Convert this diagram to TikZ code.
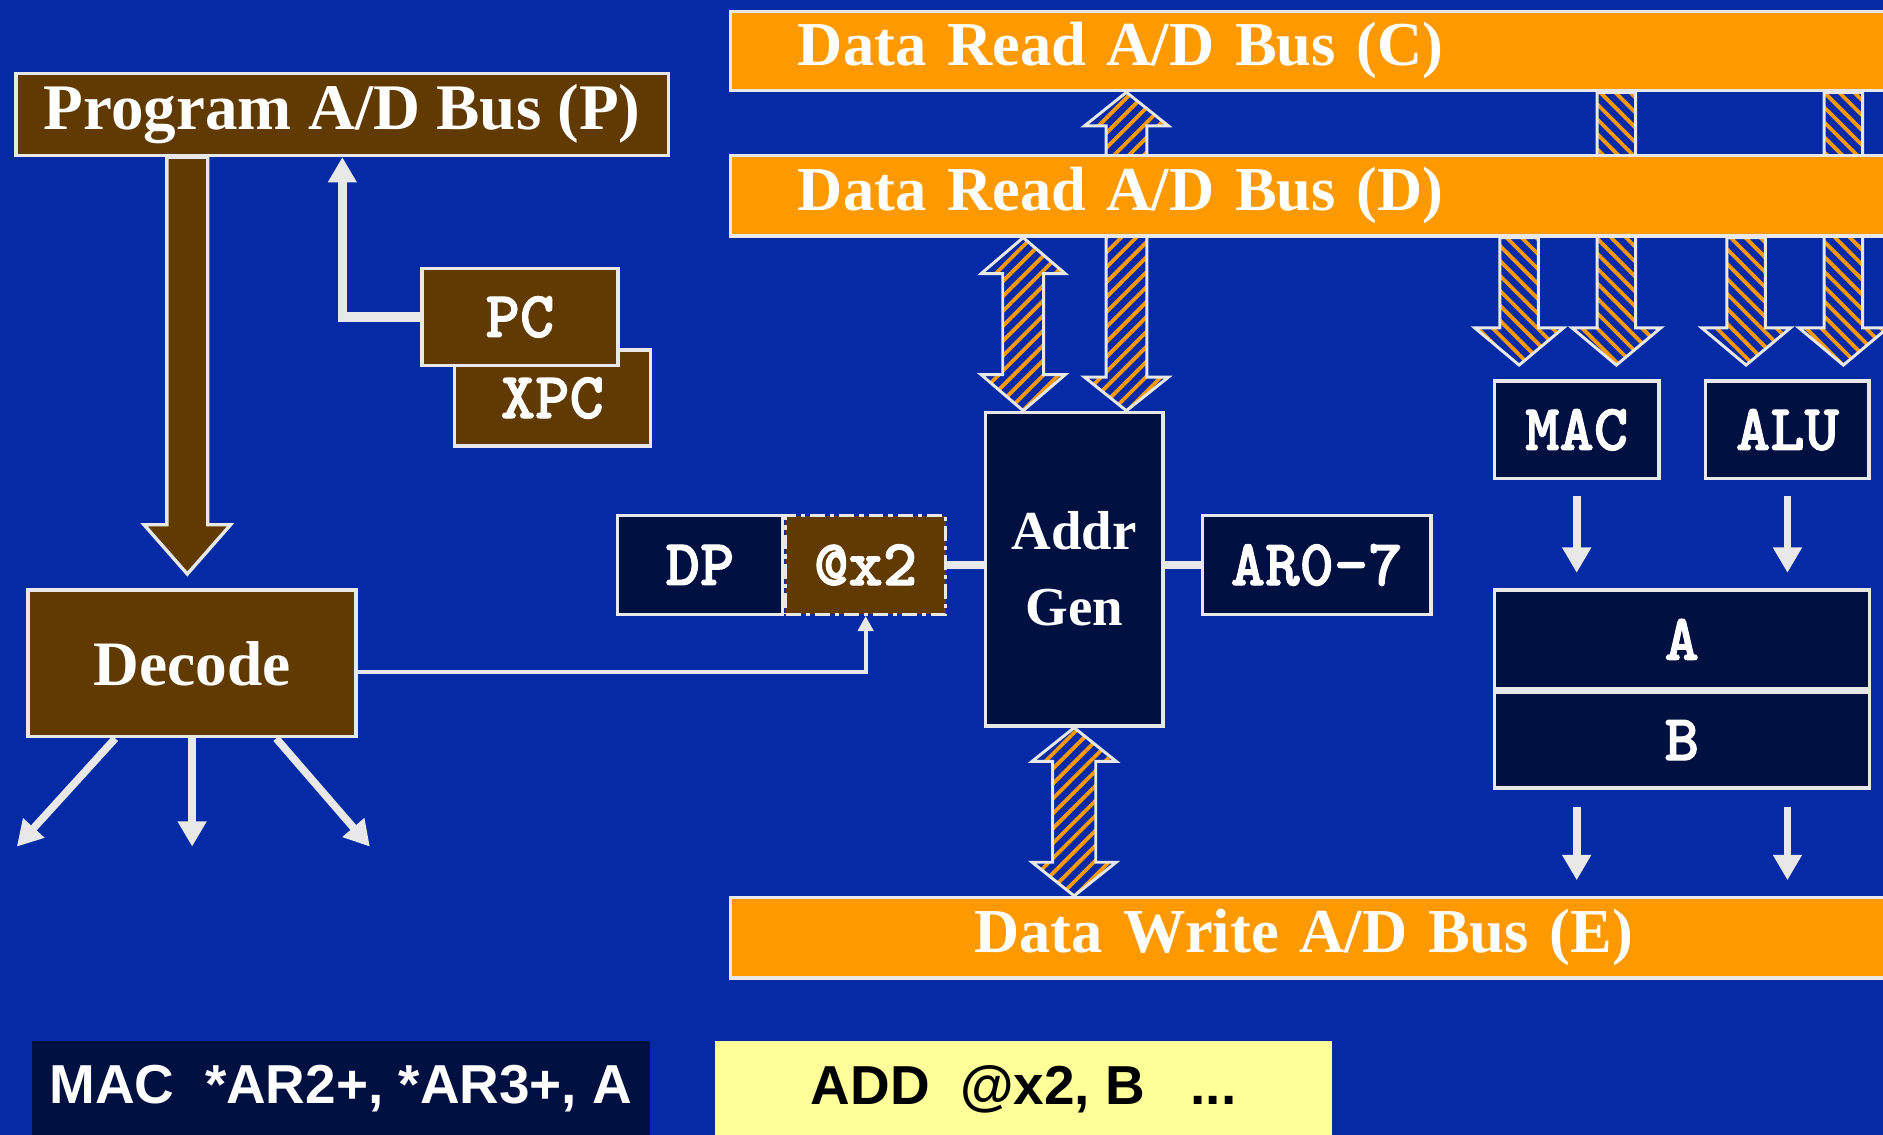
\documentclass[tikz,border=0pt]{standalone}
\usepackage{fontspec}
\setmainfont{Liberation Serif}
\setsansfont{Liberation Sans}
\newfontfamily\regmono{lmmonolt10-bold}[Extension=.otf, FakeBold=1.6]
\usepackage{xcolor}
\usepackage{tikz}
\usetikzlibrary{calc,positioning,arrows.meta,patterns.meta}

\definecolor{bgblue}{RGB}{4,42,166}
\definecolor{busorange}{RGB}{255,153,0}
\definecolor{brownfill}{RGB}{96,58,0}
\definecolor{navyfill}{RGB}{0,16,64}
\definecolor{codeyellow}{RGB}{255,255,153}
\definecolor{edge}{RGB}{232,232,232}

\pgfdeclarelayer{bg}
\pgfdeclarelayer{behind}
\pgfsetlayers{bg,behind,main}

\newcommand\labfont{\fontsize{15}{18}\selectfont\bfseries}
\newcommand\progfont{\fontsize{15.4}{18}\selectfont\bfseries}
\newcommand\busfont{\fontsize{14.8}{18}\selectfont\bfseries}
\newcommand\genfont{\fontsize{13}{18}\selectfont\bfseries}
\newcommand\regfont{\fontsize{15.5}{18}\selectfont\regmono}
\newcommand\codefont{\fontsize{13}{16}\selectfont\sffamily\bfseries}

% block arrows: style, tail, tip, shaft half width, head half width, head length
\newcommand\downblk[6]{%
  \draw[#1] ($(#2)+(-#4,0)$) -- ($(#3)+(-#4,-#6)$) -- ($(#3)+(-#5,-#6)$) -- (#3)
    -- ($(#3)+(#5,-#6)$) -- ($(#3)+(#4,-#6)$) -- ($(#2)+(#4,0)$) -- cycle;}
\newcommand\dblblk[6]{%
  \draw[#1] (#2) -- ($(#2)+(#5,#6)$) -- ($(#2)+(#4,#6)$) -- ($(#3)+(#4,-#6)$)
    -- ($(#3)+(#5,-#6)$) -- (#3) -- ($(#3)+(-#5,-#6)$) -- ($(#3)+(-#4,-#6)$)
    -- ($(#2)+(-#4,#6)$) -- ($(#2)+(-#5,#6)$) -- cycle;}

\begin{document}
\begin{tikzpicture}[x=0.01cm, y=-0.01cm,
    box/.style={draw=edge, line width=0.8pt, inner sep=0pt, anchor=north west, text=white},
    ctl/.style={box, fill=brownfill, font=\labfont},
    reg/.style={box, fill=navyfill, font=\regfont},
    bus/.style={box, fill=busorange, font=\busfont, text width=10cm, align=left, inner xsep=0.56cm},
    code/.style={inner sep=0pt, anchor=north west, font=\codefont, minimum height=0.8cm},
    bigarrow/.style={draw=edge, line width=0.8pt, fill=brownfill},
    hatch/.style={draw=edge, line width=0.7pt, preaction={fill=bgblue}, pattern color=busorange},
    hatchup/.style={hatch, pattern={Lines[angle=45,distance=2.5pt,line width=0.9pt]}},
    hatchdn/.style={hatch, pattern={Lines[angle=-45,distance=2.5pt,line width=0.9pt]}},
    wire/.style={draw=edge, line width=1.8pt},
    warrow/.style={wire, -{Triangle[width=6.5pt,length=6pt]}},
    thinarrow/.style={draw=edge, line width=0.9pt, -{Triangle[width=3.6pt,length=3.6pt]}}
]
    \begin{pgfonlayer}{bg}
        \fill[bgblue] (0,0) rectangle (1568,945);
    \end{pgfonlayer}
    \useasboundingbox (0,0) rectangle (1568,945);
    \clip (0,0) rectangle (1568,945);

    \coordinate (colL) at (852,0);
    \coordinate (colM) at (938,0);
    \coordinate (r1) at (1265,304);
    \coordinate (r2) at (1346,304);
    \coordinate (r3) at (1454,304);
    \coordinate (r4) at (1535,304);

    % program side
    \node[ctl, font=\progfont, minimum width=5.43cm, minimum height=0.68cm] (busp) at (12,60) {Program A/D Bus (P)};
    \node[ctl, font=\regfont, minimum width=1.63cm, minimum height=0.8cm] (xpc) at (377,290) {XPC};
    \node[ctl, font=\regfont, minimum width=1.63cm, minimum height=0.81cm] (pc) at (350,222) {PC};
    \node[ctl, minimum width=2.73cm, minimum height=1.22cm] (decode) at (22,490) {Decode};

    \coordinate (dtip) at ($(decode.north)+(-4,-12)$);
    \coordinate (dtail) at (dtip |- busp.south);
    \downblk{bigarrow}{dtail}{dtip}{17}{36}{41}
    \draw[warrow, line width=2.2pt] (pc.west) -| (busp.south);

    \coordinate (outl) at (14,705);
    \coordinate (outr) at (308,705);
    \draw[warrow] ($(decode.south)+(-64,0)$) -- (outl);
    \draw[warrow] (decode.south) -- (decode.south |- outl);
    \draw[warrow] ($(decode.south)+(70,0)$) -- (outr);

    % address generation
    \node[reg, minimum width=1.37cm, minimum height=0.82cm] (dp) at (513,428) {DP};
    \node[ctl, font=\regfont, right=0pt of dp, minimum width=1.33cm, minimum height=0.82cm,
          dash pattern=on 3.5pt off 1.2pt on 1pt off 1.2pt] (atx) {@x2};
    \node[reg, font=\genfont, align=center, minimum width=1.48cm, minimum height=2.61cm] (addrgen) at (819,342) {Addr\\Gen};
    \node[reg, minimum width=1.9cm, minimum height=0.82cm] (arreg) at (1000,428) {AR0-7};
    \draw[wire] (atx.east) -- (addrgen.west |- atx.east);
    \draw[wire] (addrgen.east |- arreg.west) -- (arreg.west);
    \draw[thinarrow] ($(decode.east)+(0,7)$) -| (atx.south);

    % data buses
    \node[bus, minimum height=0.66cm] (busc) at (607,8) {Data Read A/D Bus (C)};
    \begin{pgfonlayer}{behind}
        \dblblk{hatchup}{colM |- busc.south}{colM |- addrgen.north}{17}{35}{28}
        \downblk{hatchdn}{r2 |- busc.south}{r2}{16}{37}{31}
        \downblk{hatchdn}{r4 |- busc.south}{r4}{16}{37}{31}
    \end{pgfonlayer}
    \node[bus, minimum height=0.67cm] (busd) at (607,128) {Data Read A/D Bus (D)};
    \node[bus, minimum height=0.67cm, inner xsep=2.03cm] (buse) at (607,746) {Data Write A/D Bus (E)};

    \dblblk{hatchup}{colL |- busd.south}{colL |- addrgen.north}{17}{35}{30}
    \dblblk{hatchup}{addrgen.south}{addrgen.south |- buse.north}{18}{35}{28}
    \downblk{hatchdn}{r1 |- busd.south}{r1}{16}{37}{31}
    \downblk{hatchdn}{r3 |- busd.south}{r3}{16}{37}{31}

    % execution units
    \node[reg, minimum width=1.37cm, minimum height=0.81cm] (mac) at (1243,316) {MAC};
    \node[reg, minimum width=1.36cm, minimum height=0.81cm] (alu) at (1419,316) {ALU};
    \node[reg, minimum width=3.12cm, minimum height=0.82cm] (acca) at (1243,490) {A};
    \node[reg, below=0pt of acca, minimum width=3.12cm, minimum height=0.8cm] (accb) {B};
    \draw[warrow, shorten <=0.13cm, shorten >=0.13cm] (mac.south) -- (mac.south |- acca.north);
    \draw[warrow, shorten <=0.13cm, shorten >=0.13cm] (alu.south) -- (alu.south |- acca.north);
    \draw[warrow, shorten <=0.14cm, shorten >=0.13cm] (accb.south -| mac.south) -- (buse.north -| mac.south);
    \draw[warrow, shorten <=0.14cm, shorten >=0.13cm] (accb.south -| alu.south) -- (buse.north -| alu.south);

    % instructions
    \node[code, fill=navyfill, text=white, minimum width=5.14cm] (codea) at (26,866) {MAC\ \ *AR2+, *AR3+, A};
    \node[code, fill=codeyellow, text=black, minimum width=5.13cm] (codeb) at (595,866) {ADD\ \ @x2, B\ \ \ ...};
\end{tikzpicture}
\end{document}
